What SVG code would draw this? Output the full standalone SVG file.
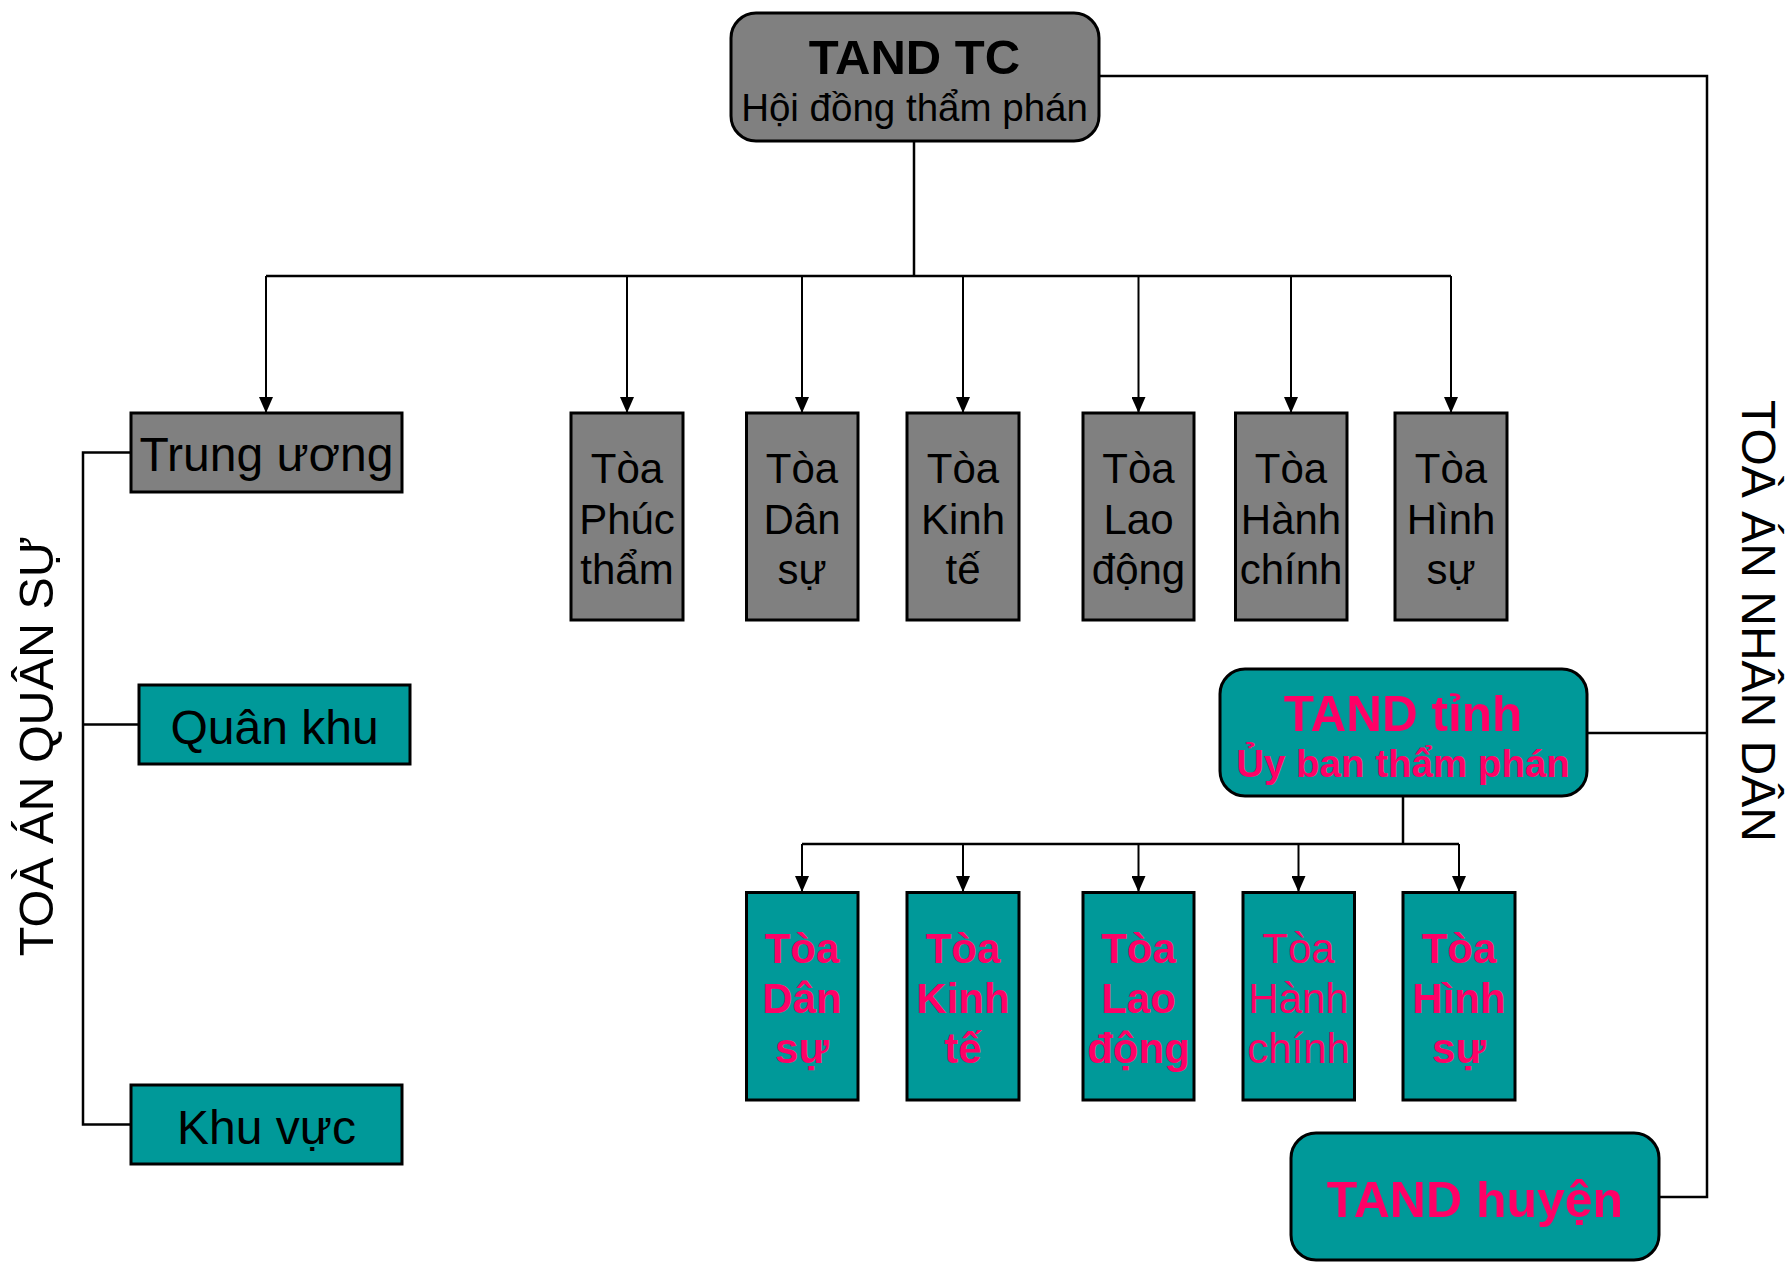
<svg xmlns="http://www.w3.org/2000/svg" width="1787" height="1269" viewBox="0 0 1787 1269">
<defs>
<marker id="arr" viewBox="0 0 16 14" refX="16" refY="7" markerWidth="16" markerHeight="14" markerUnits="userSpaceOnUse" orient="auto">
<path d="M0,0 L16,7 L0,14 z" fill="#000"/>
</marker>
<style>
.gray{fill:#808080;stroke:#000;stroke-width:3}
.teal{fill:#009999;stroke:#000;stroke-width:3}
.t{font-family:"Liberation Sans",Arial,sans-serif;text-anchor:middle;fill:#000}
.p{font-family:"Liberation Sans",Arial,sans-serif;text-anchor:middle;fill:#FF0066}
.b{font-weight:bold}
.c{fill:none;stroke:#000;stroke-width:2.5}
.a{fill:none;stroke:#000;stroke-width:2;marker-end:url(#arr)}
</style>
</defs>
<rect width="1787" height="1269" fill="#fff"/>

<g id="connectors">
<path class="c" d="M914,140 V277 M266,276 H1451"/>
<path class="a" d="M266,276 V413"/>
<path class="a" d="M627,276 V413"/>
<path class="a" d="M802,276 V413"/>
<path class="a" d="M963,276 V413"/>
<path class="a" d="M1138.5,276 V413"/>
<path class="a" d="M1291,276 V413"/>
<path class="a" d="M1451,276 V413"/>
<path class="c" d="M1099,76 H1707 V1197 H1659 M1587,733 H1707"/>
<path class="c" d="M1403,796 V844 M802,844 H1459"/>
<path class="a" d="M802,844 V892"/>
<path class="a" d="M963,844 V892"/>
<path class="a" d="M1138.5,844 V892"/>
<path class="a" d="M1298.5,844 V892"/>
<path class="a" d="M1459,844 V892"/>
<path class="c" d="M131,452.5 H83 V1124.5 H131 M83,724.5 H139"/>
</g>

<g id="tand-tc">
<rect class="gray" x="731" y="13" width="368" height="128" rx="25"/>
<text class="t b" x="914.5" y="74" font-size="49">TAND TC</text>
<text class="t" x="914.5" y="121" font-size="38.5">Hội đồng thẩm phán</text>
</g>

<g id="trung-uong">
<rect class="gray" x="131" y="413" width="271" height="79"/>
<text class="t" x="266.5" y="471" font-size="48">Trung ương</text>
</g>
<g id="quan-khu">
<rect class="teal" x="139" y="685" width="271" height="79"/>
<text class="t" x="274.5" y="744" font-size="48">Quân khu</text>
</g>
<g id="khu-vuc">
<rect class="teal" x="131" y="1085" width="271" height="79"/>
<text class="t" x="266.5" y="1144" font-size="48">Khu vực</text>
</g>

<g id="toa-phuc-tham">
<rect class="gray" x="571" y="413" width="112" height="207"/>
<text class="t" font-size="42"><tspan x="627" y="483">Tòa</tspan><tspan x="627" y="534">Phúc</tspan><tspan x="627" y="584">thẩm</tspan></text>
</g>
<g id="toa-dan-su-tc">
<rect class="gray" x="746.5" y="413" width="111.5" height="207"/>
<text class="t" font-size="42"><tspan x="802" y="483">Tòa</tspan><tspan x="802" y="534">Dân</tspan><tspan x="802" y="584">sự</tspan></text>
</g>
<g id="toa-kinh-te-tc">
<rect class="gray" x="907" y="413" width="112" height="207"/>
<text class="t" font-size="42"><tspan x="963" y="483">Tòa</tspan><tspan x="963" y="534">Kinh</tspan><tspan x="963" y="584">tế</tspan></text>
</g>
<g id="toa-lao-dong-tc">
<rect class="gray" x="1083" y="413" width="111" height="207"/>
<text class="t" font-size="42"><tspan x="1138.5" y="483">Tòa</tspan><tspan x="1138.5" y="534">Lao</tspan><tspan x="1138.5" y="584">động</tspan></text>
</g>
<g id="toa-hanh-chinh-tc">
<rect class="gray" x="1235.5" y="413" width="111.5" height="207"/>
<text class="t" font-size="42"><tspan x="1291" y="483">Tòa</tspan><tspan x="1291" y="534">Hành</tspan><tspan x="1291" y="584">chính</tspan></text>
</g>
<g id="toa-hinh-su-tc">
<rect class="gray" x="1395" y="413" width="112" height="207"/>
<text class="t" font-size="42"><tspan x="1451" y="483">Tòa</tspan><tspan x="1451" y="534">Hình</tspan><tspan x="1451" y="584">sự</tspan></text>
</g>

<g id="tand-tinh">
<rect class="teal" x="1220" y="669" width="367" height="127" rx="25"/>
<text class="p b" x="1403" y="731" font-size="49.5">TAND tỉnh</text>
<text class="p b" x="1403" y="777" font-size="38.5">Ủy ban thẩm phán</text>
</g>

<g id="toa-dan-su-t">
<rect class="teal" x="746.5" y="892.5" width="111.5" height="207.5"/>
<text class="p b" font-size="42"><tspan x="802" y="963">Tòa</tspan><tspan x="802" y="1013">Dân</tspan><tspan x="802" y="1063">sự</tspan></text>
</g>
<g id="toa-kinh-te-t">
<rect class="teal" x="907" y="892.5" width="112" height="207.5"/>
<text class="p b" font-size="42"><tspan x="963" y="963">Tòa</tspan><tspan x="963" y="1013">Kinh</tspan><tspan x="963" y="1063">tế</tspan></text>
</g>
<g id="toa-lao-dong-t">
<rect class="teal" x="1083" y="892.5" width="111" height="207.5"/>
<text class="p b" font-size="42"><tspan x="1138.5" y="963">Tòa</tspan><tspan x="1138.5" y="1013">Lao</tspan><tspan x="1138.5" y="1063">động</tspan></text>
</g>
<g id="toa-hanh-chinh-t">
<rect class="teal" x="1243" y="892.5" width="111.5" height="207.5"/>
<text class="p" font-size="42"><tspan x="1298.5" y="963">Tòa</tspan><tspan x="1298.5" y="1013">Hành</tspan><tspan x="1298.5" y="1063">chính</tspan></text>
</g>
<g id="toa-hinh-su-t">
<rect class="teal" x="1403" y="892.5" width="112" height="207.5"/>
<text class="p b" font-size="42"><tspan x="1459" y="963">Tòa</tspan><tspan x="1459" y="1013">Hình</tspan><tspan x="1459" y="1063">sự</tspan></text>
</g>

<g id="tand-huyen">
<rect class="teal" x="1291" y="1133" width="368" height="127" rx="25"/>
<text class="p b" x="1475" y="1217" font-size="50">TAND huyện</text>
</g>

<g id="label-quan-su">
<text class="t" transform="translate(53,746) rotate(-90)" font-size="48.5">TOÀ ÁN QUÂN SỰ</text>
</g>
<g id="label-nhan-dan">
<text class="t" transform="translate(1742,621) rotate(90)" font-size="48">TOÀ ÁN NHÂN DÂN</text>
</g>
</svg>
